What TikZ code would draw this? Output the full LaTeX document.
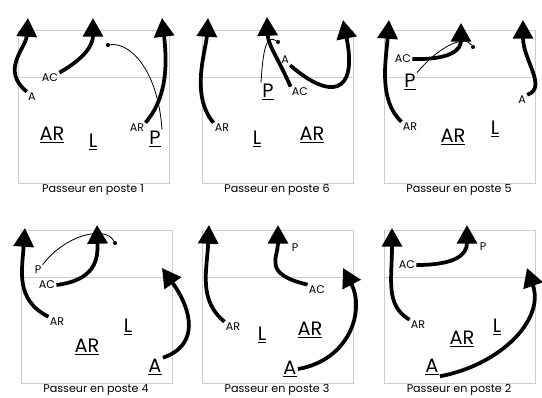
\documentclass[tikz,border=0pt]{standalone}
\usepackage{fontspec}
\setmainfont{Poppins}
\usepackage{tikz}
\usetikzlibrary{arrows.meta}
\tikzset{
    court-box/.style = {draw=gray!40, line width=0.8pt},
    run-arrow/.style = {line width=3.2pt, -{Triangle[length=16pt, width=17pt]}},
    ball-path/.style = {line width=0.7pt},
    ball-dot/.style = {circle, fill=black, inner sep=0pt, minimum size=3.5pt},
    small-label/.style = {inner sep=1pt, font=\fontsize{9.5}{11}\selectfont},
    big-label/.style = {inner sep=1pt, font=\fontsize{16.5}{19}\selectfont},
    caption-text/.style = {inner sep=1pt, font=\fontsize{9.5}{11}\selectfont},
}
\newcommand{\spot}[1]{\underline{#1}}

\begin{document}
\begin{tikzpicture}[x=0.03cm, y=-0.03cm]
\useasboundingbox (0,0) rectangle (542,397);
\foreach \x/\y/\n in {18/30/1, 202/30/6, 384/30/5, 21/230/4, 202/230/3, 384/230/2} {
    \draw[court-box] (\x,\y) rectangle ++(151,153);
    \draw[court-box] (\x,\y+47) -- ++(151,0);
    \node[caption-text] (cap\n) at (\x+75,\y+160) {Passeur en poste \n};
}

\node[small-label] (p1A) at (32,97) {A};
\node[small-label] (p1AC) at (50,78) {AC};
\node[small-label] (p1ARs) at (137,128) {AR};
\node[big-label] (p1AR) at (52,135) {\spot{AR}};
\node[big-label] (p1L) at (93,142) {\spot{L}};
\node[big-label] (p1P) at (155,139) {\spot{P}};
\node[ball-dot] (p1ball) at (108,45) {};
\coordinate (p1t1) at (28,18);
\coordinate (p1t2) at (93,18);
\coordinate (p1t3) at (162,18);
\draw[run-arrow] (p1A.north west) .. controls (0,70) and (26,48) .. (p1t1);
\draw[run-arrow] (p1AC.north east) .. controls (85,58) and (93,45) .. (p1t2);
\draw[run-arrow] (p1ARs.north east) .. controls (165,100) and (168,70) .. (p1t3);
\draw[ball-path] (p1P.north east) .. controls (158,70) and (130,42) .. (p1ball);

\node[small-label] (p6ARs) at (222,128) {AR};
\node[small-label] (p6A) at (285,60) {A};
\node[small-label] (p6AC) at (300,92) {AC};
\node[big-label] (p6P) at (268,92) {\spot{P}};
\node[big-label] (p6L) at (257,139) {\spot{L}};
\node[big-label] (p6AR) at (312,135) {\spot{AR}};
\node[ball-dot] (p6ball) at (278,42) {};
\coordinate (p6t1) at (208,18);
\coordinate (p6t2) at (267,17);
\coordinate (p6t3) at (343,20);
\draw[run-arrow] (p6ARs.north west) .. controls (190,95) and (206,50) .. (p6t1);
\draw[run-arrow] (p6AC.north west) .. controls (280,62) and (268,45) .. (p6t2);
\draw[run-arrow] (p6A.south east) .. controls (330,100) and (358,95) .. (p6t3);
\draw[ball-path] (p6P.north west) .. controls (263,50) and (266,34) .. (p6ball);

\node[small-label] (p5ARs) at (410,127) {AR};
\node[small-label] (p5AC) at (403,59) {AC};
\node[small-label] (p5A) at (522,100) {A};
\node[big-label] (p5P) at (410,82) {\spot{P}};
\node[big-label] (p5AR) at (453,137) {\spot{AR}};
\node[big-label] (p5L) at (495,129) {\spot{L}};
\node[ball-dot] (p5ball) at (473,47) {};
\coordinate (p5t1) at (389,20);
\coordinate (p5t2) at (461,23);
\coordinate (p5t3) at (523,20);
\draw[run-arrow] (p5ARs.north west) .. controls (378,100) and (386,60) .. (p5t1);
\draw[run-arrow] (p5AC.east) .. controls (450,60) and (461,50) .. (p5t2);
\draw[run-arrow] (p5A.north east) .. controls (548,88) and (523,60) .. (p5t3);
\draw[ball-path] (p5P.north east) .. controls (440,45) and (465,35) .. (p5ball);

\node[small-label] (p4ARs) at (57,322) {AR};
\node[small-label] (p4P) at (38,270) {P};
\node[small-label] (p4AC) at (47,285) {AC};
\node[big-label] (p4L) at (128,327) {\spot{L}};
\node[big-label] (p4AR) at (87,347) {\spot{AR}};
\node[big-label] (p4A) at (155,367) {\spot{A}};
\node[ball-dot] (p4ball) at (115,243) {};
\coordinate (p4t1) at (25,228);
\coordinate (p4t2) at (97,225);
\coordinate (p4t3) at (162,268);
\draw[run-arrow] (p4ARs.north west) .. controls (15,300) and (22,270) .. (p4t1);
\draw[run-arrow] (p4AC.east) .. controls (95,280) and (98,260) .. (p4t2);
\draw[run-arrow] (p4A.north east) .. controls (200,345) and (192,310) .. (p4t3);
\draw[ball-path] (p4P.north east) .. controls (65,235) and (105,225) .. (p4ball);

\node[small-label] (p3ARs) at (233,327) {AR};
\node[small-label] (p3AC) at (317,290) {AC};
\node[small-label] (p3P) at (295,248) {P};
\node[big-label] (p3L) at (262,335) {\spot{L}};
\node[big-label] (p3AR) at (310,330) {\spot{AR}};
\node[big-label] (p3A) at (290,369) {\spot{A}};
\coordinate (p3t1) at (209,225);
\coordinate (p3t2) at (278,225);
\coordinate (p3t3) at (343,268);
\draw[run-arrow] (p3ARs.north west) .. controls (198,300) and (207,270) .. (p3t1);
\draw[run-arrow] (p3AC.north west) .. controls (262,274) and (278,258) .. (p3t2);
\draw[run-arrow] (p3A.east) .. controls (350,360) and (365,310) .. (p3t3);

\node[small-label] (p2ARs) at (418,325) {AR};
\node[small-label] (p2AC) at (407,265) {AC};
\node[small-label] (p2P) at (483,247) {P};
\node[big-label] (p2L) at (497,327) {\spot{L}};
\node[big-label] (p2AR) at (462,339) {\spot{AR}};
\node[big-label] (p2A) at (432,367) {\spot{A}};
\coordinate (p2t1) at (392,228);
\coordinate (p2t2) at (467,225);
\coordinate (p2t3) at (527,268);
\draw[run-arrow] (p2ARs.north west) .. controls (385,305) and (392,280) .. (p2t1);
\draw[run-arrow] (p2AC.east) .. controls (455,265) and (467,255) .. (p2t2);
\draw[run-arrow] (p2A.south east) .. controls (500,365) and (545,320) .. (p2t3);
\end{tikzpicture}
\end{document}
